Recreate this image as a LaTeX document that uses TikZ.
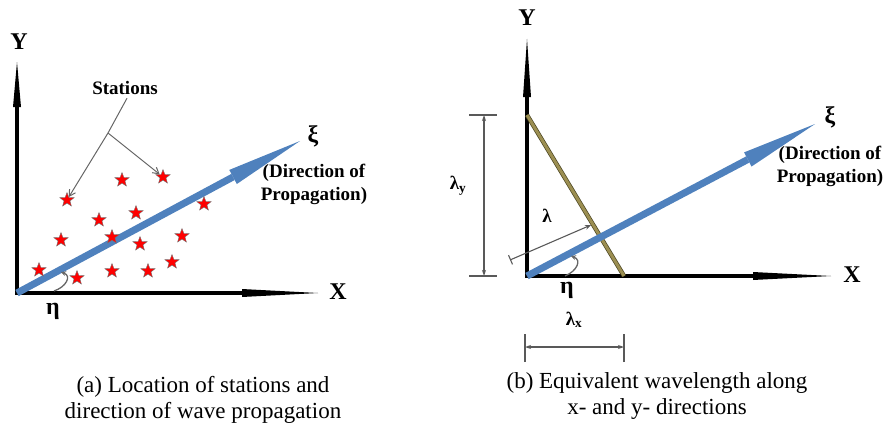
\documentclass[tikz,border=0pt]{standalone}
\usepackage{fontspec}
\setmainfont{Liberation Serif}[BoldFont={Liberation Serif Bold}]
\usetikzlibrary{arrows.meta,shapes.geometric}
\definecolor{propblue}{HTML}{4F81BD}
\definecolor{crestfill}{HTML}{9C8F52}
\definecolor{crestedge}{HTML}{4A4420}
\begin{document}
\begin{tikzpicture}[x=1pt, y=-1pt,
    axis/.style={line width=4pt, shorten <=-2pt, -{Triangle[length=#1, width=8pt, line width=0pt]}},
    prop/.style={line width=7pt, propblue, -{Triangle[length=76pt, width=16pt, line width=0pt]}},
    station/.style={star, star points=5, star point ratio=2.4, fill=red, draw=black!55,
        line width=0.4pt, inner sep=0pt, minimum size=15pt},
    lbl/.style={font=\bfseries\fontsize{19}{23}\selectfont},
    axlbl/.style={font=\bfseries\fontsize{24}{26}\selectfont},
    caption/.style={align=center, font=\fontsize{23}{26}\selectfont},
    pointer/.style={draw=black!60, line width=1pt},
    anglearc/.style={draw=black!60, line width=1.3pt, -{Stealth[length=5pt, width=5pt]}},
    dimline/.style={draw=black!65, line width=1.1pt},
    crest/.style={draw=crestedge, line width=0.7pt, double=crestfill, double distance=3pt}]
    \useasboundingbox (0,0) rectangle (885,428);

    % (a) stations
    \coordinate (oa) at (17,293);
    \coordinate (ya) at (17,62);
    \coordinate (xa) at (318,293);
    \coordinate (pa) at (300,141);
    \draw[axis=45pt] (oa) -- (ya);
    \draw[axis=76pt] (oa) -- (xa);
    \draw[prop] (oa) -- (pa);

    \node[axlbl] (Ya) at (19,42) {Y};
    \node[axlbl] (Xa) at (338,292) {X};
    \node[axlbl] (etaa) at (53,311) {η};
    \node[axlbl] (xia) at (313,136) {ξ};
    \node[lbl, align=center] (dira) at (314,184) {(Direction of\\Propagation)};

    \foreach \p [count=\i] in {(67,200), (122,180), (163,177), (204,204), (99,220),
        (136,213), (61,240), (112,237), (140,244), (182,236),
        (39,270), (77,278), (112,271), (148,271), (172,262)}
        \node[station] (s\i) at \p {};

    \node[lbl] (stl) at (125,88) {Stations};
    \coordinate (lead) at (108,133);
    \draw[pointer] ([xshift=2pt]stl.south) -- (lead);
    \draw[pointer, -{Straight Barb[length=6pt, width=7pt]}] (lead) -- (s1);
    \draw[pointer, -{Straight Barb[length=6pt, width=7pt]}] (lead) -- (s3);

    \coordinate (arca1) at (54,291);
    \coordinate (arca2) at (61,272);
    \draw[anglearc] (arca1) .. controls (66,287) and (72,276) .. (arca2);

    \node[caption] (capa) at (203,400) {(a) Location of stations and\\direction of wave propagation};

    % (b) wavelengths
    \coordinate (ob) at (527,276);
    \coordinate (yb) at (527,39);
    \coordinate (xb) at (831,276);
    \coordinate (pb) at (815,124);
    \coordinate (cy) at (527,115);
    \coordinate (cx) at (624,276);
    \draw[axis=58pt] (ob) -- (yb);
    \draw[axis=78pt] (ob) -- (xb);
    \draw[crest] (cy) -- (cx);
    \draw[prop] (ob) -- (pb);

    \node[axlbl] (Yb) at (527,18) {Y};
    \node[axlbl] (Xb) at (852,275) {X};
    \node[axlbl] (etab) at (567,290) {η};
    \node[axlbl] (xib) at (830,117) {ξ};
    \node[lbl, align=center] (dirb) at (830,166) {(Direction of\\Propagation)};

    \coordinate (arcb1) at (565,276);
    \coordinate (arcb2) at (571,256);
    \draw[anglearc] (arcb1) .. controls (577,271) and (582,260) .. (arcb2);

    % lambda_y
    \coordinate (ly1) at (484,115);
    \coordinate (ly2) at (484,276);
    \draw[dimline] ([xshift=-15pt]ly1) -- ([xshift=13pt]ly1);
    \draw[dimline] ([xshift=-15pt]ly2) -- ([xshift=13pt]ly2);
    \draw[dimline, {Stealth[length=6pt, width=4pt]}-{Stealth[length=6pt, width=4pt]}] (ly1) -- (ly2);
    \node[lbl] (lamy) at (458,186) {λ\textsubscript{y}};

    % lambda_x
    \coordinate (lx1) at (525,347);
    \coordinate (lx2) at (624,347);
    \draw[dimline] ([yshift=-15pt]lx1) -- ([yshift=13pt]lx1);
    \draw[dimline] ([yshift=-15pt]lx2) -- ([yshift=13pt]lx2);
    \draw[dimline, {Stealth[length=6pt, width=4pt]}-{Stealth[length=6pt, width=4pt]}] (lx1) -- (lx2);
    \node[lbl] (lamx) at (574,320) {λ\textsubscript{x}};

    % lambda
    \coordinate (l1) at (510,260);
    \coordinate (l2) at (591,225);
    \draw[dimline, {Bar[width=10pt]}-{Stealth[length=6pt, width=5pt]}] (l1) -- (l2);
    \node[lbl] (lam) at (547,216) {λ};

    \node[caption] (capb) at (657,396) {(b) Equivalent wavelength along\\x- and y- directions};
\end{tikzpicture}
\end{document}
